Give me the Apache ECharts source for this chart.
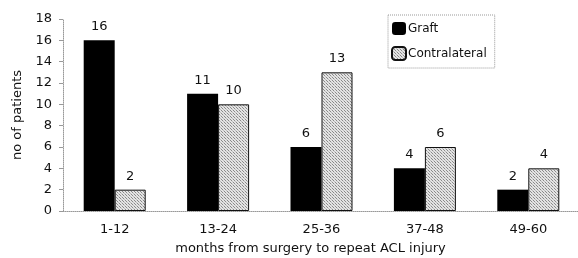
<!DOCTYPE html>
<html>
<head>
<meta charset="UTF-8">
<title>repeat ACL injury</title>
<script src="https://cdn.jsdelivr.net/npm/echarts@6/dist/echarts.min.js"></script>
<style>
  html, body { margin: 0; padding: 0; background: #fff; }
  #main { width: 578px; height: 258px; }
</style>
</head>
<body>
<div id="main"></div>
<script>
var categories = ['1-12', '13-24', '25-36', '37-48', '49-60'];
var graft = [16, 11, 6, 4, 2];
var contralateral = [2, 10, 13, 6, 4];

// stippled fill for the contralateral bars
var dots = document.createElement('canvas');
dots.width = 3; dots.height = 3;
var c = dots.getContext('2d');
c.fillStyle = '#e4e4e4'; c.fillRect(0, 0, 3, 3);
c.fillStyle = '#8a8a8a'; c.fillRect(0, 0, 1, 1); c.fillRect(2, 2, 1, 1);
c.fillStyle = '#bbbbbb'; c.fillRect(1, 1, 1, 1);

var font = 'DejaVu Sans, sans-serif';
var chart = echarts.init(document.getElementById('main'));
chart.setOption({
  animation: false,
  textStyle: { fontFamily: font },
  grid: { left: 63, top: 19, width: 517, height: 192, containLabel: false, outerBoundsMode: 'none' },
  legend: {
    orient: 'vertical', left: 388, top: 15,
    width: 112,
    itemWidth: 14, itemHeight: 13, itemGap: 11,
    padding: [7, 8, 7, 3],
    borderColor: '#999', borderWidth: 1, borderType: 'dotted',
    textStyle: { fontSize: 12, color: '#111', padding: [0, 0, 0, -3] },
    data: ['Graft', 'Contralateral']
  },
  xAxis: {
    type: 'category',
    data: categories,
    name: 'months from surgery to repeat ACL injury',
    nameLocation: 'middle', nameGap: 31,
    nameTextStyle: { fontSize: 13, color: '#111', padding: [0, 22, 0, 0] },
    axisLine: { lineStyle: { color: '#999', type: 'dotted' } },
    axisTick: { show: false },
    axisLabel: { fontSize: 13, color: '#111', margin: 12 }
  },
  yAxis: {
    type: 'value', min: 0, max: 18, interval: 2,
    name: 'no of patients',
    nameLocation: 'middle', nameGap: 39, nameRotate: 90,
    nameTextStyle: { fontSize: 13, color: '#111' },
    axisLine: { show: true, lineStyle: { color: '#999', type: 'dotted' } },
    axisTick: { show: true, length: 4, lineStyle: { color: '#999' } },
    splitLine: { show: false },
    axisLabel: { fontSize: 13, color: '#111', margin: 11 }
  },
  series: [
    {
      name: 'Graft', type: 'bar', data: graft,
      barWidth: 31, barGap: '0%',
      itemStyle: { color: '#000' },
      label: { show: true, position: 'top', fontSize: 13, color: '#111', distance: 7 }
    },
    {
      name: 'Contralateral', type: 'bar', data: contralateral,
      barWidth: 31,
      itemStyle: { color: { image: dots, repeat: 'repeat' }, borderColor: '#111', borderWidth: 1 },
      label: { show: true, position: 'top', fontSize: 13, color: '#111', distance: 7 }
    }
  ]
});
</script>
</body>
</html>
